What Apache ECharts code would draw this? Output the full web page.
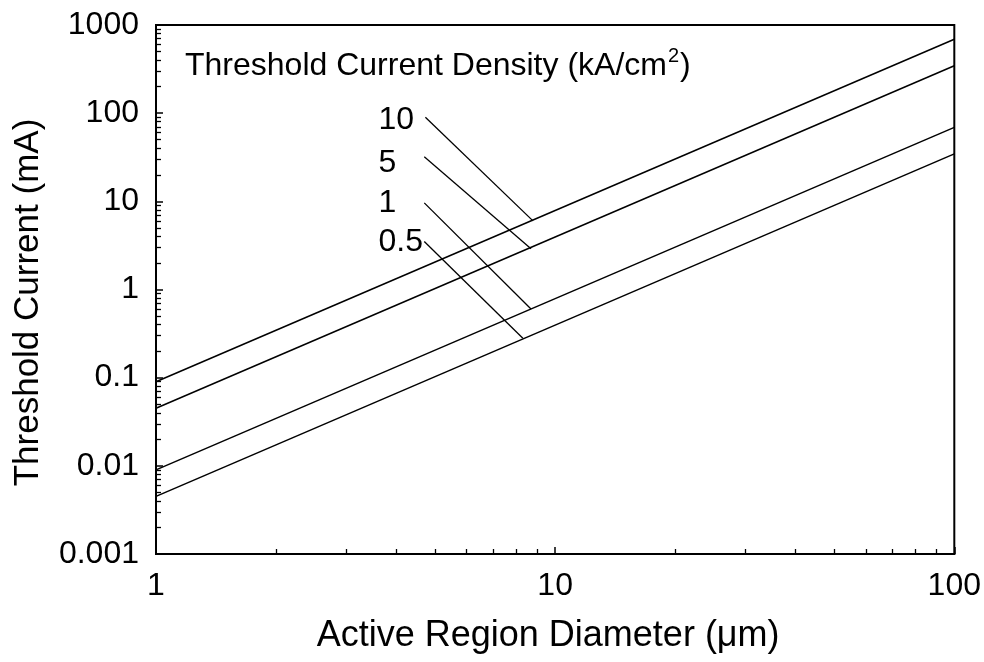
<!DOCTYPE html>
<html><head><meta charset="utf-8">
<script src="https://cdn.jsdelivr.net/npm/echarts@6/dist/echarts.min.js"></script>
<style>html,body{margin:0;padding:0;background:#fff}#c{width:984px;height:662px}</style>
</head><body><div id="c"></div>
<script>
// Diameter (µm) endpoints of each straight log-log line
const diameters = [1, 100];
// Threshold current (mA) at d = 1 and d = 100 for each current density
const current10 = [0.09, 690];
const current5 = [0.045, 345];
const current1 = [0.009, 69];
const current05 = [0.0045, 34.5];
// Density labels and their leader lines (data coordinates)
const densityLabels = ['10', '5', '1', '0.5'];
const labelD = [3.61, 3.61, 3.61, 3.61];
const labelI = [84, 27, 9.6, 3.4];
const leaderStartD = [4.73, 4.70, 4.70, 4.70];
const leaderStartI = [90, 32, 9.6, 3.5];
const leaderEndD = [8.8, 8.7, 8.7, 8.3];
const leaderEndI = [6.0, 2.9, 0.6, 0.28];
// Tick labels
const xTicks = [1, 10, 100];
const xTickLabels = ['1', '10', '100'];
const yTicks = [0.001, 0.01, 0.1, 1, 10, 100, 1000];
const yTickLabels = ['0.001', '0.01', '0.1', '1', '10', '100', '1000'];

const FONT = "'Liberation Sans', Arial, Helvetica, sans-serif";
function tickLabel(ticks, labels) {
  return function (v) {
    for (let i = 0; i < ticks.length; i++) {
      if (Math.abs(Math.log10(v) - Math.log10(ticks[i])) < 1e-6) return labels[i];
    }
    return '';
  };
}
const curves = [current10, current5, current1, current05];
const series = curves.map(arr => ({
  type: 'line', symbol: 'none', silent: true,
  lineStyle: { color: '#000', width: 1.5 },
  data: diameters.map((d, i) => [d, arr[i]])
}));
densityLabels.forEach((_, i) => {
  series.push({
    type: 'line', symbol: 'none', silent: true,
    lineStyle: { color: '#000', width: 1.3 },
    data: [[leaderStartD[i], leaderStartI[i]], [leaderEndD[i], leaderEndI[i]]]
  });
});
series.push({
  type: 'scatter', symbolSize: 0, silent: true,
  itemStyle: { opacity: 1 },
  data: densityLabels.map((t, i) => [labelD[i], labelI[i], t]),
  label: {
    show: true, position: 'right', distance: 0,
    formatter: p => p.value[2],
    color: '#000', fontSize: 32, fontFamily: FONT
  }
});

const axisCommon = {
  type: 'log', logBase: 10,
  axisLine: { lineStyle: { color: '#000', width: 2 } },
  axisTick: { inside: true, length: 7, lineStyle: { color: '#000', width: 1.5 } },
  minorTick: { show: true, splitNumber: 9, length: 5, lineStyle: { color: '#000', width: 1.3 } },
  splitLine: { show: false },
  minorSplitLine: { show: false },
  nameLocation: 'middle'
};

const chart = echarts.init(document.getElementById('c'), null, { renderer: 'canvas' });
chart.setOption({
  animation: false,
  backgroundColor: '#fff',
  title: {
    text: '{m|Threshold Current Density (kA/cm}{s|2}{m|)}',
    left: 185, top: 46, padding: 0,
    textStyle: {
      color: '#000', fontSize: 32, fontWeight: 'normal', fontFamily: FONT,
      rich: {
        m: { color: '#000', fontSize: 32, fontFamily: FONT, lineHeight: 36, verticalAlign: 'bottom' },
        s: { color: '#000', fontSize: 20, fontFamily: FONT, lineHeight: 36, verticalAlign: 'top', padding: [0, 1, 0, 1] }
      }
    }
  },
  grid: { left: 156, right: 29, top: 25, bottom: 108, show: true, borderColor: '#000', borderWidth: 2, backgroundColor: 'transparent' },
  xAxis: Object.assign({}, axisCommon, {
    min: 1, max: 100,
    name: 'Active Region Diameter (μm)', nameGap: 64,
    nameTextStyle: { color: '#000', fontSize: 36, fontFamily: FONT, padding: [0, 14, 0, 0] },
    axisLabel: { margin: 16, color: '#000', fontSize: 32, fontFamily: FONT, formatter: tickLabel(xTicks, xTickLabels) }
  }),
  yAxis: Object.assign({}, axisCommon, {
    min: 0.001, max: 1000,
    name: 'Threshold Current (mA)', nameGap: 110,
    nameTextStyle: { color: '#000', fontSize: 35, fontFamily: FONT, padding: [0, 26, 0, 0] },
    axisLabel: { margin: 17, color: '#000', fontSize: 32, fontFamily: FONT, formatter: tickLabel(yTicks, yTickLabels) }
  }),
  series: series
});
</script>
</body></html>
